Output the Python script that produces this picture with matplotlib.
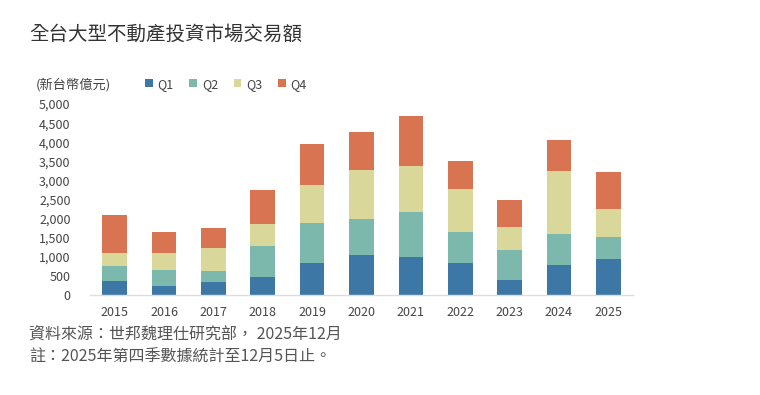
import matplotlib.pyplot as plt
import numpy as np

plt.rcParams['font.family'] = ['Noto Sans CJK TC', 'DejaVu Sans']

years = ['2015', '2016', '2017', '2018', '2019', '2020',
         '2021', '2022', '2023', '2024', '2025']
q1 = [360, 230, 340, 480, 850, 1050, 990, 835, 385, 790, 940]
q2 = [400, 420, 300, 810, 1025, 950, 1175, 805, 805, 800, 590]
q3 = [335, 445, 580, 560, 1000, 1270, 1220, 1125, 590, 1655, 720]
q4 = [1000, 545, 545, 895, 1090, 1000, 1300, 735, 720, 805, 980]
quarters = ['Q1', 'Q2', 'Q3', 'Q4']
colors = ['#3d77a6', '#7cb8ab', '#dad79a', '#d87451']

fig = plt.figure(figsize=(7.6, 3.95), dpi=100, facecolor='white')
ax = fig.add_axes([0.1184, 0.253, 0.7145, 0.4835])

x = np.arange(len(years))
bottom = np.zeros(len(years))
for name, vals, c in zip(quarters, [q1, q2, q3, q4], colors):
    ax.bar(x, vals, width=0.5, bottom=bottom, color=c, label=name, zorder=2)
    bottom += np.array(vals)

ax.set_xlim(-0.5, 10.5)
ax.set_ylim(0, 5000)
ax.set_yticks(range(0, 5001, 500))
ax.set_yticklabels([f'{v:,}' for v in range(0, 5001, 500)])
ax.set_xticks(x)
ax.set_xticklabels(years)
ax.tick_params(axis='both', length=0, labelsize=9, colors='#444444')
ax.tick_params(axis='y', pad=14)
ax.tick_params(axis='x', pad=8)
for s in ['top', 'right', 'left']:
    ax.spines[s].set_visible(False)
ax.spines['bottom'].set_color('#dddddd')
ax.spines['bottom'].set_linewidth(1)

fig.legend(loc='center left', bbox_to_anchor=(0.176, 0.787), ncol=4, frameon=False,
           fontsize=9, handlelength=0.6, handleheight=0.6, handletextpad=0.4,
           columnspacing=1.25, labelcolor='#444444')

fig.text(0.047, 0.785, '(新台幣億元)', fontsize=9.5, color='#444444', va='center')
fig.text(0.038, 0.912, '全台大型不動產投資市場交易額', fontsize=14, color='#333333',
         va='center')
fig.text(0.038, 0.155, '資料來源：世邦魏理仕研究部， 2025年12月', fontsize=11.5,
         color='#555555', va='center')
fig.text(0.038, 0.097, '註：2025年第四季數據統計至12月5日止。', fontsize=11.5,
         color='#555555', va='center')

fig.savefig('out.png', dpi=100, facecolor='white')
